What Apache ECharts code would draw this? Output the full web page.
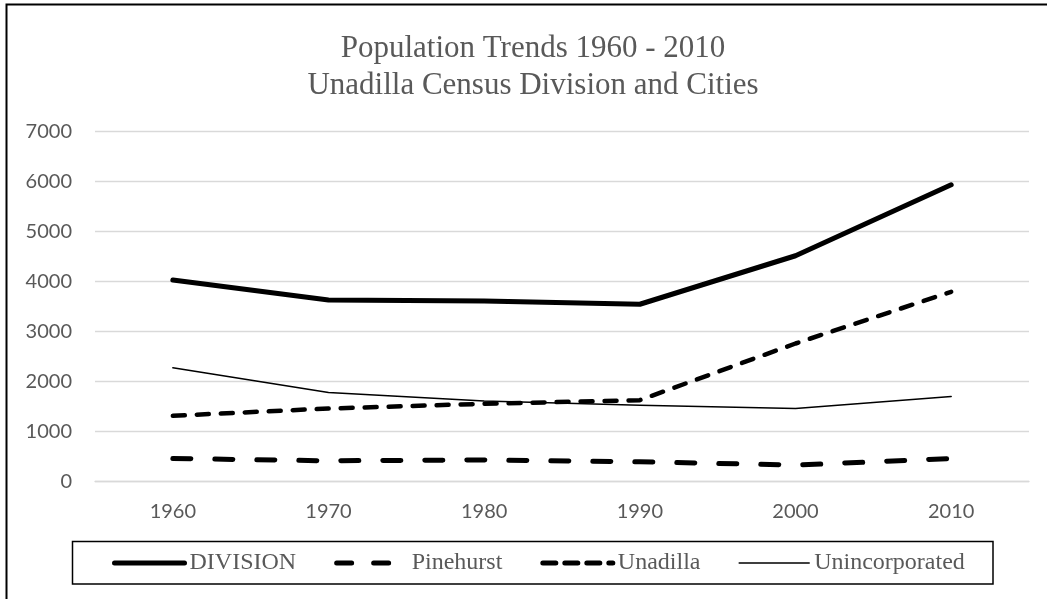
<!DOCTYPE html>
<html>
<head>
<meta charset="utf-8">
<script src="https://cdn.jsdelivr.net/npm/echarts@6/dist/echarts.min.js"></script>
<style>
html,body{margin:0;padding:0;background:#fff;}
#chart{width:1047px;height:599px;}
</style>
</head>
<body>
<div id="chart"></div>
<script>
const years = ['1960', '1970', '1980', '1990', '2000', '2010'];
const division = [4030, 3630, 3610, 3545, 4515, 5935];
const pinehurst = [460, 414, 432, 394, 328, 460];
const unadilla = [1314, 1460, 1554, 1627, 2760, 3794];
const unincorporated = [2274, 1780, 1610, 1527, 1460, 1700];
const yTicks = [0, 1000, 2000, 3000, 4000, 5000, 6000, 7000];

const titleText = 'Population Trends 1960 - 2010\nUnadilla Census Division and Cities';

const chart = echarts.init(document.getElementById('chart'), null, {renderer: 'canvas'});

const styles = {
  DIVISION: {width: 5, type: 'solid'},
  Pinehurst: {width: 5, type: [18, 24]},
  Unadilla: {width: 4.5, type: [12, 12]},
  Unincorporated: {width: 1.5, type: 'solid'}
};
const legendStyles = {
  DIVISION: {width: 5, type: 'solid'},
  Pinehurst: {width: 5, type: [15, 22]},
  Unadilla: {width: 5, type: [13, 9]},
  Unincorporated: {width: 1.5, type: 'solid'}
};

function mk(name, data) {
  return {
    name: name,
    type: 'line',
    data: data,
    symbol: 'none',
    showSymbol: false,
    smooth: false,
    lineStyle: {color: '#000', width: styles[name].width, type: styles[name].type, cap: 'round', join: 'round'},
    itemStyle: {color: '#000'},
    emphasis: {disabled: true},
    animation: false
  };
}

chart.setOption({
  animation: false,
  backgroundColor: '#fff',
  title: {
    text: titleText,
    left: 528,
    textAlign: 'center',
    top: 25,
    textStyle: {fontFamily: 'Liberation Serif', fontSize: 31, fontWeight: 'normal', color: '#595959', lineHeight: 37}
  },
  graphic: [
    {type: 'rect', shape: {x: 6.5, y: 4.5, width: 1200, height: 800}, style: {fill: 'none', stroke: '#000', lineWidth: 2}, z: 100, silent: true},
    {type: 'rect', shape: {x: 72.5, y: 541.5, width: 920.5, height: 42.5}, style: {fill: 'none', stroke: '#000', lineWidth: 1.5}, z: 100, silent: true}
  ],
  legend: {
    left: 112,
    top: 551,
    padding: 0,
    itemWidth: 70,
    itemHeight: 24,
    itemGap: 38,
    textStyle: {fontFamily: 'Liberation Serif', fontSize: 24, color: '#595959'},
    data: ['DIVISION', 'Pinehurst', 'Unadilla', 'Unincorporated'].map(n => ({
      name: n,
      itemStyle: {opacity: 0},
      lineStyle: {color: '#000', width: legendStyles[n].width, type: legendStyles[n].type, cap: 'round', opacity: 1}
    }))
  },
  grid: {left: 95, right: 18, top: 131.5, bottom: 117.5, containLabel: false},
  xAxis: {
    type: 'category',
    data: years,
    boundaryGap: true,
    axisLine: {show: true, lineStyle: {color: '#d9d9d9', width: 1.3}},
    axisTick: {show: false},
    axisLabel: {margin: 20, fontFamily: 'Lato', fontSize: 20, color: '#595959'}
  },
  yAxis: {
    type: 'value',
    min: 0,
    max: 7000,
    interval: 1000,
    axisLine: {show: false},
    axisTick: {show: false},
    axisLabel: {margin: 23, fontFamily: 'Lato', fontSize: 20, color: '#595959',
      formatter: v => yTicks.indexOf(v) >= 0 ? String(v) : ''},
    splitLine: {lineStyle: {color: '#d9d9d9', width: 1.3}}
  },
  series: [
    mk('DIVISION', division),
    mk('Pinehurst', pinehurst),
    mk('Unadilla', unadilla),
    mk('Unincorporated', unincorporated)
  ]
});
</script>
</body>
</html>
